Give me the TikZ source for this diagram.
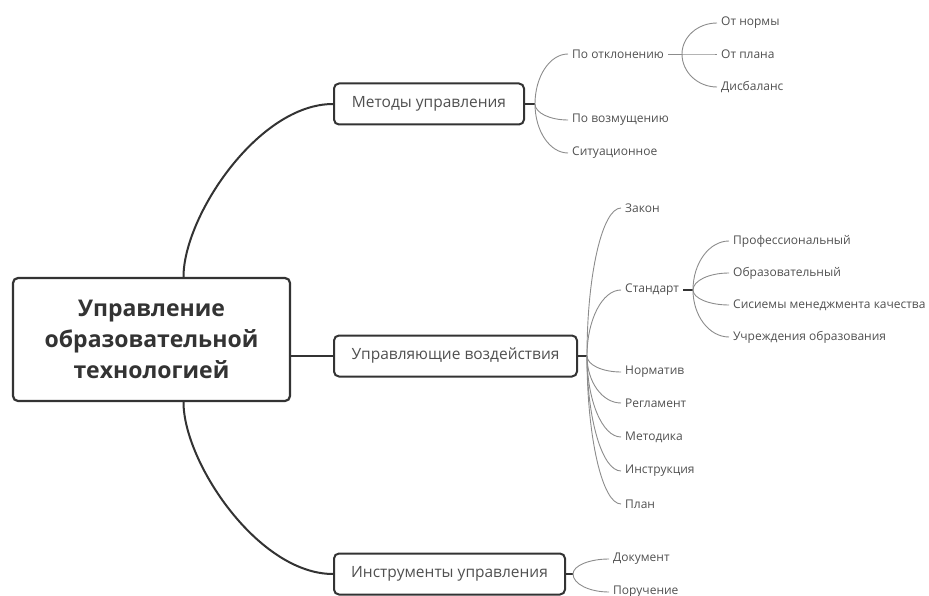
\documentclass[tikz,border=0pt]{standalone}
\usepackage{fontspec}
\setmainfont{Open Sans}
\usetikzlibrary{calc}

\definecolor{ink}{HTML}{333333}
\definecolor{twig}{HTML}{8C8C8C}
\definecolor{lbl}{HTML}{505050}

\begin{document}
\begin{tikzpicture}[
  x=1pt, y=-1pt,
  root/.style={draw=ink, line width=2.2pt, rounded corners=5pt, fill=white,
               minimum width=277pt, minimum height=123pt, align=center,
               font=\bfseries\fontsize{23}{31}\selectfont, text=ink},
  topic/.style={draw=ink, line width=2pt, rounded corners=5pt, fill=white,
                minimum height=41pt, anchor=west,
                font=\fontsize{15.5}{18}\selectfont, text=lbl},
  leaf/.style={font=\fontsize{12}{14}\selectfont, text=lbl, anchor=west,
               inner xsep=4pt, inner ysep=2pt},
  trunk/.style={draw=ink, line width=2pt},
  twig/.style={draw=twig, line width=0.9pt},
  % vertical out of the start, horizontal into the end
  arc/.style 2 args={to path={.. controls
      ($(\tikztostart)!#1!(\tikztostart |- \tikztotarget)$) and
      ($(\tikztotarget)!#2!(\tikztostart |- \tikztotarget)$) .. (\tikztotarget)}},
  arc/.default={0.55}{0.55},
]
\useasboundingbox (0,0) rectangle (929,596);

\node[root] (root) at (151.5,339.5) {Управление\\образовательной\\технологией};
\coordinate (rt) at ([xshift=32pt]root.north);
\coordinate (rb) at ([xshift=32pt]root.south);

\node[topic, minimum width=190pt] (meth)  at (333,104) {Методы управления};
\node[topic, minimum width=243pt] (infl)  at (333,356) {Управляющие воздействия};
\node[topic, minimum width=231pt] (instr) at (333,574) {Инструменты управления};

\draw[trunk] (rt) to[arc={0.35}{0.5}] (meth.west);
\draw[trunk] (root.east |- infl.west) -- (infl.west);
\draw[trunk] (rb) to[arc={0.35}{0.5}] (instr.west);

% ---- methods ----
\coordinate (mj) at (535,104);
\draw[trunk] (meth.east) -- (mj);
\foreach \n/\y/\t in {otkl/54/По отклонению, vozm/120/По возмущению,
                      sit/153/Ситуационное}
  \node[leaf] (\n) at (568,\y) {\t};
\foreach \n in {otkl, vozm, sit}
  \draw[twig] (mj) to[arc] (\n.west);

\coordinate (oj) at (682,54);
\draw[twig] (otkl.east) -- (oj);
\foreach \n/\y/\t in {norm/23/От нормы, plan/54/От плана, disb/87/Дисбаланс}
  \node[leaf] (\n) at (717,\y) {\t};
\foreach \n in {norm, plan, disb}
  \draw[twig] (oj) to[arc] (\n.west);

% ---- control actions ----
\coordinate (ij) at (587,356);
\draw[trunk] (infl.east) -- (ij);
\foreach \n/\y/\t in {zak/208/Закон, std/290/Стандарт, nrm/372/Норматив,
                      regl/403/Регламент, meto/437/Методика,
                      instrk/471/Инструкция, pln/504/План}
  \node[leaf] (\n) at (621,\y) {\t};
\foreach \n in {zak, std, nrm, regl, meto, instrk, pln}
  \draw[twig] (ij) to[arc] (\n.west);

\coordinate (sj) at (693,290);
\draw[trunk] (std.east) -- (sj);
\foreach \n/\y/\t in {prof/241/Профессиональный, obr/273/Образовательный,
                      smk/305/Сисиемы менеджмента качества,
                      uchr/337/Учреждения образования}
  \node[leaf] (\n) at (729,\y) {\t};
\foreach \n in {prof, obr, smk, uchr}
  \draw[twig] (sj) to[arc] (\n.west);

% ---- tools ----
\coordinate (tj) at (573,574);
\draw[trunk] (instr.east) -- (tj);
\foreach \n/\y/\t in {doc/559/Документ, poru/592/Поручение}
  \node[leaf] (\n) at (609,\y) {\t};
\foreach \n in {doc, poru}
  \draw[twig] (tj) to[arc] (\n.west);
\end{tikzpicture}
\end{document}
